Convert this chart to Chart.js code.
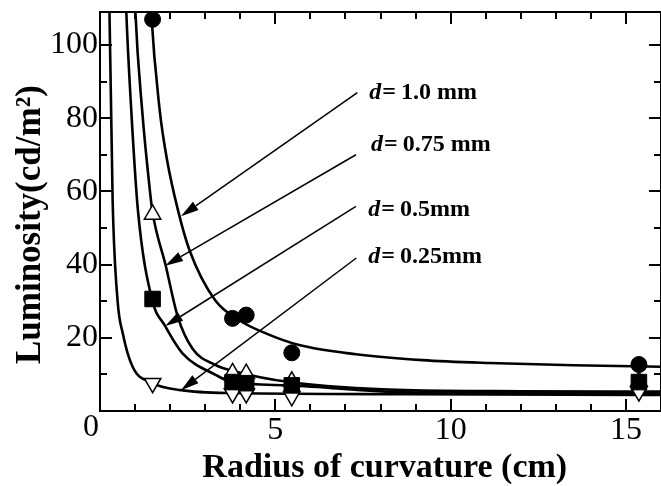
<!DOCTYPE html>
<html>
<head>
<meta charset="utf-8">
<script src="https://cdn.jsdelivr.net/npm/chart.js@4/dist/chart.umd.min.js"></script>
<style>
  html, body { margin: 0; padding: 0; background: #fff; overflow: hidden; }
  canvas { display: block; }
</style>
</head>
<body>
<canvas id="lumChart" width="661" height="486"></canvas>
<script>
// measured points, radius of curvature (cm)
const radius = [1.5, 3.78, 4.17, 5.47, 15.37];
const lum100 = [107, 25.3, 26.2, 15.9, 12.7];  // d = 1.0 mm  (circles)
const lum075 = [53.7, 10.4, 10.2, 8.1, 8.1];   // d = 0.75 mm (up triangles)
const lum050 = [30.6, 7.9, 7.6, 7.0, 7.9];     // d = 0.5 mm  (squares)
const lum025 = [7.6, 4.8, 4.8, 4.0, 5.3];      // d = 0.25 mm (down triangles)

// fitted curves
const fit100X = [1.42, 1.46, 1.70, 1.91, 2.22, 2.55, 3.28, 3.97, 4.73, 5.68, 7.30, 9.19, 11.10, 13.5, 16.0];
const fit100Y = [118, 109, 82.4, 68.7, 55.0, 44.0, 30.3, 24.8, 21.2, 18.0, 15.5, 13.9, 13.1, 12.5, 12.1];
const fit075X = [0.98, 1.01, 1.20, 1.43, 1.50, 1.87, 2.22, 2.64, 3.31, 3.77, 5.40, 8.72, 12.0, 16.0];
const fit075Y = [118, 109, 82.4, 59.6, 54.2, 39.9, 25.7, 17.0, 12.5, 11.0, 7.9, 5.7, 5.4, 5.3];
const fit050X = [0.72, 0.75, 0.89, 1.08, 1.48, 1.86, 2.36, 3.31, 3.77, 5.40, 8.72, 12.0, 16.0];
const fit050Y = [118, 109, 82.4, 55.0, 30.6, 23.2, 15.7, 9.8, 7.9, 7.0, 5.1, 4.9, 4.9];
const fit025X = [0.26, 0.27, 0.36, 0.50, 0.65, 0.93, 1.48, 2.31, 3.77, 8.72, 16.0];
const fit025Y = [118, 109, 57.7, 30.3, 21.2, 12.1, 7.7, 5.7, 4.9, 4.6, 4.4];

// axis ticks
const xTickVals = [1, 2, 3, 4, 5, 6, 7, 8, 9, 10, 11, 12, 13, 14, 15];
const xLabelVals = [5, 10, 15];
const yTickVals = [10, 20, 30, 40, 50, 60, 70, 80, 90, 100];
const yLabelVals = [20, 40, 60, 80, 100];

// annotations: label text, label anchor and arrow (data units)
const noteText = ['1.0 mm', '0.75 mm', '0.5mm', '0.25mm'];
const noteX = [7.68, 7.73, 7.65, 7.65];
const noteY = [85.1, 71.0, 53.2, 40.4];
const arrowFromX = [7.34, 7.30, 7.30, 7.31];
const arrowFromY = [87.0, 70.0, 55.9, 41.8];
const arrowToX = [2.31, 1.86, 1.86, 2.31];
const arrowToY = [53.2, 39.7, 23.2, 5.7];

const pts = (xs, ys) => xs.map((x, i) => ({ x: x, y: ys[i] }));
const serif = '"Liberation Serif", "Times New Roman", serif';

const fitLine = (xs, ys) => ({
  data: pts(xs, ys),
  showLine: true,
  borderColor: '#000',
  borderWidth: 2.6,
  pointRadius: 0,
  cubicInterpolationMode: 'monotone'
});

// no label overhang padding, the frame is set by layout padding only
const noPad = s => {
  s.paddingTop = 0; s.paddingBottom = 0; s.paddingLeft = 0; s.paddingRight = 0;
};

const framePlugin = {
  id: 'frame',
  afterDatasetsDraw(chart) {
    const { ctx, chartArea: a, scales: { x, y } } = chart;
    ctx.save();
    ctx.strokeStyle = '#000';
    ctx.lineWidth = 2;
    ctx.strokeRect(a.left, a.top, a.right - a.left, a.bottom - a.top);
    ctx.beginPath();
    xTickVals.forEach(v => {
      const px = Math.round(x.getPixelForValue(v));
      const len = v % 5 === 0 ? 12 : 7;
      ctx.moveTo(px, a.bottom); ctx.lineTo(px, a.bottom - len);
      ctx.moveTo(px, a.top); ctx.lineTo(px, a.top + len);
    });
    yTickVals.forEach(v => {
      const py = Math.round(y.getPixelForValue(v));
      const len = v % 20 === 0 ? 12 : 7;
      ctx.moveTo(a.left, py); ctx.lineTo(a.left + len, py);
      ctx.moveTo(a.right, py); ctx.lineTo(a.right - len, py);
    });
    ctx.stroke();

    // origin label sits left of the axis corner
    ctx.fillStyle = '#000';
    ctx.font = '32px ' + serif;
    ctx.textAlign = 'center';
    ctx.textBaseline = 'alphabetic';
    ctx.fillText('0', x.getPixelForValue(0) - 9, a.bottom + 25);

    // arrows
    ctx.lineWidth = 1.5;
    noteText.forEach((t, i) => {
      const x0 = x.getPixelForValue(arrowFromX[i]), y0 = y.getPixelForValue(arrowFromY[i]);
      const x1 = x.getPixelForValue(arrowToX[i]), y1 = y.getPixelForValue(arrowToY[i]);
      const ang = Math.atan2(y1 - y0, x1 - x0);
      const hl = 18, hw = 5;
      const bx = x1 - Math.cos(ang) * hl, by = y1 - Math.sin(ang) * hl;
      ctx.beginPath();
      ctx.moveTo(x0, y0); ctx.lineTo(bx, by);
      ctx.stroke();
      ctx.beginPath();
      ctx.moveTo(x1, y1);
      ctx.lineTo(bx + Math.sin(ang) * hw, by - Math.cos(ang) * hw);
      ctx.lineTo(bx - Math.sin(ang) * hw, by + Math.cos(ang) * hw);
      ctx.closePath();
      ctx.fill();

      // label: italic d, then "= value"
      let lx = x.getPixelForValue(noteX[i]);
      const ly = y.getPixelForValue(noteY[i]);
      ctx.textAlign = 'left';
      ctx.font = 'italic bold 24px ' + serif;
      ctx.fillText('d', lx, ly);
      lx += ctx.measureText('d').width + 1;
      ctx.font = 'bold 24px ' + serif;
      ctx.fillText('=', lx, ly);
      lx += ctx.measureText('=').width + 5;
      ctx.fillText(t, lx, ly);
    });
    ctx.restore();
  }
};

new Chart(document.getElementById('lumChart'), {
  type: 'scatter',
  data: {
    datasets: [
      { data: pts(radius, lum100), pointStyle: 'circle', pointRadius: 8, backgroundColor: '#000', borderColor: '#000', borderWidth: 1 },
      { data: pts(radius, lum050), pointStyle: 'rect', pointRadius: 11, backgroundColor: '#000', borderColor: '#000', borderWidth: 1 },
      { data: pts(radius, lum075), pointStyle: 'triangle', pointRadius: 9.5, backgroundColor: '#fff', borderColor: '#000', borderWidth: 1.5 },
      { data: pts(radius, lum025), pointStyle: 'triangle', pointRotation: 180, pointRadius: 9.5, backgroundColor: '#fff', borderColor: '#000', borderWidth: 1.5 },
      fitLine(fit100X, fit100Y),
      fitLine(fit075X, fit075Y),
      fitLine(fit050X, fit050Y),
      fitLine(fit025X, fit025Y)
    ]
  },
  options: {
    responsive: false,
    animation: false,
    devicePixelRatio: 1,
    layout: { autoPadding: false, padding: { top: 12, right: 0, left: 0, bottom: 0 } },
    plugins: { legend: { display: false }, tooltip: { enabled: false } },
    scales: {
      x: {
        type: 'linear', min: 0, max: 16,
        afterBuildTicks: s => { s.ticks = xTickVals.map(v => ({ value: v })); },
        afterFit: s => { s.height = 75; noPad(s); },
        grid: { display: false, drawTicks: false },
        border: { display: false },
        ticks: {
          autoSkip: false, maxRotation: 0, padding: 0, color: '#000',
          font: { family: serif, size: 32 },
          callback: v => xLabelVals.includes(v) ? String(v) : ''
        },
        title: {
          display: true, text: '\u00a0Radius of curvature (cm)', color: '#000',
          font: { family: serif, size: 34, weight: 'bold' },
          padding: { top: 0, bottom: -3 }
        }
      },
      y: {
        type: 'linear', min: 0, max: 109,
        afterBuildTicks: s => { s.ticks = yTickVals.map(v => ({ value: v })); },
        afterFit: s => { s.width = 100; noPad(s); },
        grid: { display: false, drawTicks: false },
        border: { display: false },
        ticks: {
          autoSkip: false, padding: 2, color: '#000',
          font: { family: serif, size: 32 },
          callback: v => yLabelVals.includes(v) ? String(v) : ''
        },
        title: {
          display: true, text: 'Luminosity(cd/m²)\u00a0\u00a0\u00a0', color: '#000',
          font: { family: serif, size: 35, weight: 'bold' },
          padding: { top: 10, bottom: 0 }
        }
      }
    }
  },
  plugins: [framePlugin]
});
</script>
</body>
</html>
